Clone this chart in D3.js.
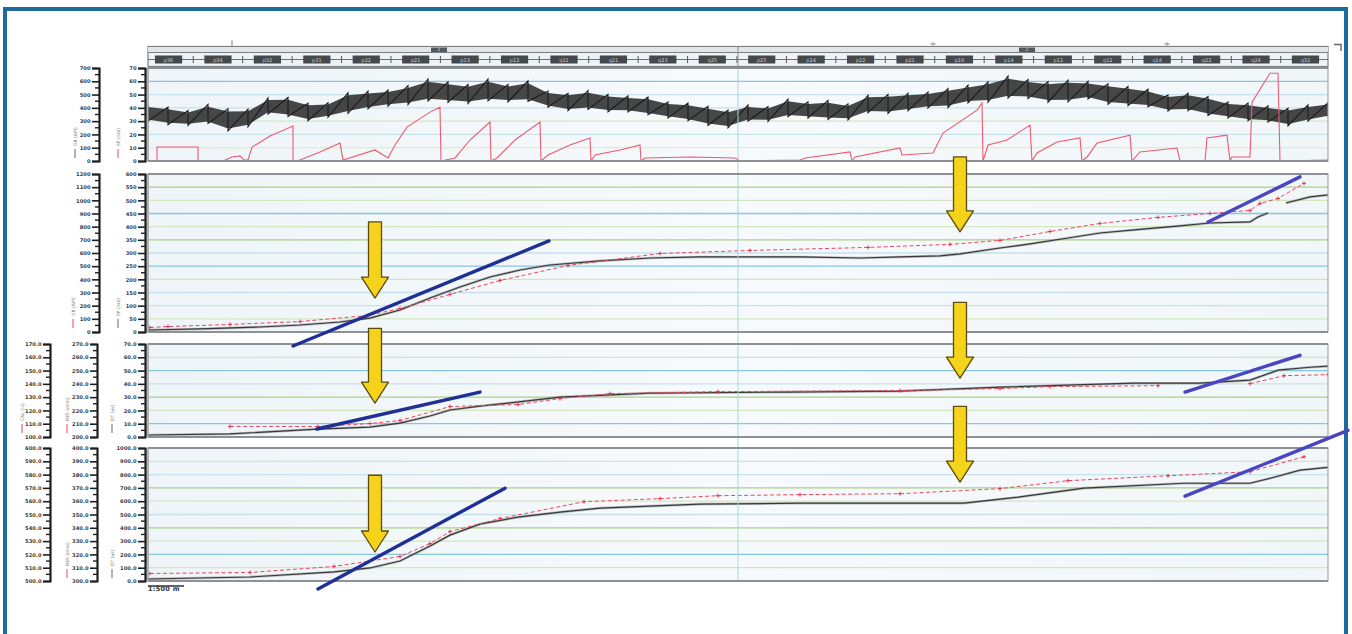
<!DOCTYPE html>
<html><head><meta charset="utf-8">
<script src="https://cdn.jsdelivr.net/npm/d3@7"></script>
<style>body{margin:0;background:#fff}svg{display:block}</style>
</head><body><svg id="c" width="1352" height="634"></svg>
<script>
// ================= DATA =================
const xDomain = [0, 590];
const segmentBreak = 295;
const segmentLabels = ["1", "2"];
const headerLabels = ["p36","p34","p32","p31","p22","p21","p13","p12","q11","q21","q23","q25",
                      "p25","p24","p22","p21","p16","p14","p12","q12","q14","q22","q24","q32"];
const topMarks = [42, 392.5, 509.5];

// Panel 1 : noisy black signal (mid value and half range) sampled along x
const p1BandPos = [0,10,20,30,40,50,60,70,80,90,100,110,120,130,140,150,160,170,180,190,
  200,210,220,230,240,250,260,270,280,290,300,310,320,330,340,350,360,370,380,390,
  400,410,420,430,440,450,460,470,480,490,500,510,520,530,540,550,560,570,580,590];
const p1BandMid = [360,338,323,353,308,323,413,405,368,383,435,458,473,495,533,518,503,533,510,525,
  465,443,458,435,428,413,383,368,338,315,360,353,398,383,383,368,428,428,443,458,
  473,503,518,555,540,518,525,533,503,488,473,435,443,413,383,368,353,330,360,383];
const p1BandAmp = [55,60,50,65,75,60,55,65,60,50,70,60,55,65,75,70,65,75,60,70,
  55,60,65,60,55,60,55,60,65,60,55,50,60,55,65,55,60,65,60,55,
  65,60,70,75,65,70,75,60,70,65,60,55,60,65,55,60,55,60,55,50];
// Panel 1 : red sawtooth
const p1RedPos = [0,4.5,4.5,25,25,37.5,42,46,48,50,52,61,72.5,72.5,76,86,96,97.5,113.5,120,123.5,129.5,141,146,146.5,
  153.5,161,171,171.5,174.5,183.5,196,196.5,200,211,221,221.5,223.5,236,246,246.5,248.5,271,293.5,296,326,328.5,351,352,
  353.5,376,377,392.5,397.5,414.5,417,417.5,420,429.5,441,442,444.5,454.5,466,467,469.5,474.5,491,492,496,514.5,516,
  528.5,529.5,539.5,541,542,551,552,561,565,566,590];
const p1RedVal = [0,0,105,105,0,0,30,38,8,8,105,188,263,0,8,68,135,8,83,23,120,255,368,405,0,
  23,158,293,0,23,158,293,0,45,120,173,0,45,83,120,0,23,30,23,0,8,23,68,0,
  30,98,45,60,210,383,435,0,120,158,270,0,60,143,173,0,30,135,195,0,68,98,0,
  0,173,195,0,30,30,443,660,660,0,8];

// Panel 2 (cumulative curves)
const p2BlackPos = [0,26,56,76,96,111,126,141,156,171,186,201,226,251,276,296,326,356,376,396,406,426,441,460,476,493,516,531,551,555,560,null,569,581,590];
const p2BlackVal = [15,23,38,53,76,106,167,258,342,418,471,509,540,562,570,570,570,562,570,578,593,638,669,714,752,775,806,828,836,874,904,null,980,1026,1041];
const p2RedPos = [1,10,41,76,110,126,151,176,210,256,301,360,401,426,451,476,505,531,551,556,565,578];
const p2RedVal = [23,30,46,68,114,167,274,380,494,585,608,631,654,684,752,813,859,889,912,965,1003,1117];

// Panel 3
const p3BlackPos = [0,41,85,111,126,141,151,166,180,206,251,318,376,426,493,526,551,565,581,590];
const p3BlackVal = [15,23,60,75,105,158,203,233,255,300,330,338,345,375,405,405,428,503,525,533];
const p3RedPos = [41,85,111,126,151,185,206,231,285,376,426,451,505,null,551,568,590];
const p3RedVal = [68,68,90,113,218,233,278,315,330,338,353,368,375,null,390,450,458];

// Panel 4
const p4BlackPos = [0,51,93,111,126,141,151,166,185,206,226,276,326,376,408,435,468,518,551,563,576,590];
const p4BlackVal = [15,30,68,98,150,263,345,428,480,518,548,578,585,585,585,630,698,735,735,780,833,855];
const p4RedPos = [1,51,93,126,141,151,176,218,256,285,326,376,426,460,510,551,578];
const p4RedVal = [45,53,98,173,270,360,458,585,608,630,638,645,683,743,780,810,923];

// Trend annotations [pos1, val1, pos2, val2] in each panel's units
const p2Trends = [[72.5,-106,200.5,692],[530,836,576,1178]];
const p3Trends = [[84.5,60,166,338],[518.5,338,576,615]];
const p4Trends = [[85,-60,178.5,698],[518.5,638,600,1133]];
// Arrows [pos, topValue, tipValue]
const p2Arrows = [[113.5,836,258],[406,1330,760]];
const p3Arrows = [[113.5,818,255],[406,1013,443]];
const p4Arrows = [[113.5,795,218],[406,1313,743]];

// Tick labels
const p1TicksA = ["0","100","200","300","400","500","600","700"];
const p1TicksB = ["0","10","20","30","40","50","60","70"];
const p2TicksA = ["0","100","200","300","400","500","600","700","800","900","1000","1100","1200"];
const p2TicksB = ["0","50","100","150","200","250","300","350","400","450","500","550","600"];
const p3TicksA = ["100.0","110.0","120.0","130.0","140.0","150.0","160.0","170.0"];
const p3TicksB = ["200.0","210.0","220.0","230.0","240.0","250.0","260.0","270.0"];
const p3TicksC = ["0.0","10.0","20.0","30.0","40.0","50.0","60.0","70.0"];
const p4TicksA = ["500.0","510.0","520.0","530.0","540.0","550.0","560.0","570.0","580.0","590.0","600.0"];
const p4TicksB = ["300.0","310.0","320.0","330.0","340.0","350.0","360.0","370.0","380.0","390.0","400.0"];
const p4TicksC = ["0.0","100.0","200.0","300.0","400.0","500.0","600.0","700.0","800.0","900.0","1000.0"];
const legendTexts = ["GR","SP","CAL","RES","DT"];
const scaleText = "1:500 m";

// ================= DRAWING =================
const svg = d3.select('#c');
const x = d3.scaleLinear().domain(xDomain).range([148, 1328]);

svg.append('rect').attr('x',5).attr('y',9).attr('width',1341).attr('height',660)
  .attr('fill','none').attr('stroke','#1d6a9c').attr('stroke-width',4);

const G = {blue:'#86c7de', lblue:'#c6e2ec', green:'#a9d287', lgreen:'#d3e7bf', lyel:'#e6ecc2'};
const panels = [
  {top:68, bottom:161, domain:[0,700], step:100, grid:[G.blue,G.lblue,G.lblue,G.lgreen,G.lblue,G.lyel]},
  {top:174, bottom:332, domain:[0,1200], step:100, grid:[G.green,G.lgreen,G.blue,G.lgreen,G.green,G.lblue,G.blue,G.lgreen,G.lblue,G.lblue,G.lgreen]},
  {top:344, bottom:437, domain:[0,700], step:100, grid:[G.lgreen,G.blue,G.lblue,G.green,G.lgreen,G.blue]},
  {top:448, bottom:581, domain:[0,1000], step:100, grid:[G.lgreen,G.lblue,G.green,G.lgreen,G.lblue,G.green,G.lgreen,G.blue,G.lgreen]}
];
panels.forEach(p => { p.y = d3.scaleLinear().domain(p.domain).range([p.bottom, p.top]); });

const defs = svg.append('defs');
const grad = defs.append('linearGradient').attr('id','bg').attr('x1',0).attr('x2',1).attr('y1',0).attr('y2',0);
grad.append('stop').attr('offset','0%').attr('stop-color','#eef4f8');
grad.append('stop').attr('offset','50%').attr('stop-color','#f7fafc');
grad.append('stop').attr('offset','100%').attr('stop-color','#f1f6f9');

panels.forEach((p,i) => {
  defs.append('clipPath').attr('id','clip'+i).append('rect')
    .attr('x',x.range()[0]).attr('y',p.top).attr('width',x.range()[1]-x.range()[0]).attr('height',p.bottom-p.top);
  const g = svg.append('g');
  g.append('rect').attr('x',x.range()[0]).attr('y',p.top).attr('width',x.range()[1]-x.range()[0])
    .attr('height',p.bottom-p.top).attr('fill','url(#bg)');
  const ticks = p.y.ticks((p.domain[1]-p.domain[0])/p.step).filter(t=>t>p.domain[0] && t<p.domain[1]).reverse();
  g.selectAll('line.grid').data(ticks).enter().append('line')
    .attr('x1',x.range()[0]).attr('x2',x.range()[1]).attr('y1',d=>p.y(d)).attr('y2',d=>p.y(d))
    .attr('stroke',(d,j)=>p.grid[j]).attr('stroke-width',1.3);
  g.append('rect').attr('x',x.range()[0]-3).attr('y',p.top).attr('width',4).attr('height',p.bottom-p.top).attr('fill','#c4c7c9');
  p.g = g;
});

svg.append('line').attr('x1',x(segmentBreak)).attr('x2',x(segmentBreak)).attr('y1',47).attr('y2',582)
  .attr('stroke','#a9d3e6').attr('stroke-width',1);

panels.forEach(p => {
  p.g2 = svg.append('g');
  p.g2.append('rect').attr('x',x.range()[0]).attr('y',p.top).attr('width',x.range()[1]-x.range()[0])
    .attr('height',p.bottom-p.top).attr('fill','none').attr('stroke','#a3a6a8').attr('stroke-width',1.2);
  p.g2.append('line').attr('x1',x.range()[0]).attr('x2',x.range()[1]).attr('y1',p.top).attr('y2',p.top).attr('stroke','#8e9193').attr('stroke-width',2);
  p.g2.append('line').attr('x1',x.range()[0]).attr('x2',x.range()[1]).attr('y1',p.bottom).attr('y2',p.bottom).attr('stroke','#8e9193').attr('stroke-width',2);
});

// ---- header ----
const hx0 = x.range()[0], hx1 = x.range()[1];
const hdr = svg.append('g');
hdr.append('rect').attr('x',hx0).attr('y',46.5).attr('width',hx1-hx0).attr('height',20).attr('fill','#eef2f4').attr('stroke','#7d8082').attr('stroke-width',1.2);
hdr.append('rect').attr('x',hx0).attr('y',47).attr('width',hx1-hx0).attr('height',5.5).attr('fill','#dfe5e8');
hdr.append('line').attr('x1',hx0).attr('x2',hx1).attr('y1',52.5).attr('y2',52.5).attr('stroke','#7d8082').attr('stroke-width',1);
hdr.append('line').attr('x1',hx0).attr('x2',hx1).attr('y1',59.5).attr('y2',59.5).attr('stroke','#6d7072').attr('stroke-width',1);
const band = d3.scaleBand().domain(headerLabels.map((d,i)=>i)).range([hx0+2, hx1-4]).paddingInner(0.45).paddingOuter(0.1);
headerLabels.forEach((lab,i) => {
  const bx = band(i);
  hdr.append('rect').attr('x',bx).attr('y',55.5).attr('width',band.bandwidth()).attr('height',8).attr('fill','#45494c');
  hdr.append('text').attr('x',bx+band.bandwidth()/2).attr('y',61.6).attr('text-anchor','middle')
    .attr('font-family','DejaVu Sans').attr('font-size',5).attr('fill','#c9cccf').text(lab);
  const sx = bx + band.bandwidth() + band.step()*band.paddingInner()/2;
  if (i < headerLabels.length-1)
    hdr.append('line').attr('x1',sx).attr('x2',sx).attr('y1',56).attr('y2',63).attr('stroke','#555').attr('stroke-width',1);
});
[segmentBreak/2, (segmentBreak + xDomain[1])/2].forEach((pos,i) => {
  const cx = x(pos) + (i===0? -4 : -6);
  hdr.append('rect').attr('x',cx-8).attr('y',47.5).attr('width',16).attr('height',4.5).attr('fill','#55595c');
  hdr.append('text').attr('x',cx).attr('y',51.4).attr('text-anchor','middle').attr('font-family','DejaVu Sans')
    .attr('font-size',4.5).attr('fill','#e0e0e0').text(segmentLabels[i]);
});
hdr.append('line').attr('x1',x(segmentBreak)).attr('x2',x(segmentBreak)).attr('y1',47).attr('y2',66).attr('stroke','#8a8d8f');
topMarks.forEach((m,i) => {
  if (i===0) svg.append('line').attr('x1',x(m)).attr('x2',x(m)).attr('y1',40).attr('y2',46).attr('stroke','#888');
  else {
    svg.append('line').attr('x1',x(m)-3).attr('x2',x(m)+3).attr('y1',44).attr('y2',44).attr('stroke','#999');
    svg.append('line').attr('x1',x(m)).attr('x2',x(m)).attr('y1',42).attr('y2',46).attr('stroke','#999');
  }
});
svg.append('path').attr('d','M1334,44.5 H1341 V51').attr('fill','none').attr('stroke','#666').attr('stroke-width',1.4);

// ---- Panel 1 content ----
const P1 = panels[0];
const g1 = P1.g.append('g').attr('clip-path','url(#clip0)');
const bandArea = d3.area().x((d,i)=>x(p1BandPos[i]))
  .y0((d,i)=>P1.y(p1BandMid[i]-p1BandAmp[i]*0.85)).y1((d,i)=>P1.y(p1BandMid[i]+p1BandAmp[i]*0.85)).curve(d3.curveLinear);
g1.append('path').datum(p1BandMid).attr('d',bandArea).attr('fill','#2e2e2e').attr('opacity',0.88);
const zig = [];
p1BandMid.forEach((m,i) => {
  zig.push([x(p1BandPos[i]), P1.y(m + p1BandAmp[i]*1.12)]);
  zig.push([x(p1BandPos[i]), P1.y(m - p1BandAmp[i]*1.08)]);
});
g1.append('path').attr('d',d3.line()(zig)).attr('fill','none').attr('stroke','#1a1a1a').attr('stroke-width',1.1);
const redLine1 = d3.line().x((d,i)=>x(p1RedPos[i])).y(d=>P1.y(d));
g1.append('path').datum(p1RedVal).attr('d',redLine1).attr('fill','none').attr('stroke','#ee5a70').attr('stroke-width',1.1);

// ---- curves in panels 2-4 ----
function drawCurves(pi, bPos, bVal, rPos, rVal) {
  const P = panels[pi];
  const g = P.g.append('g').attr('clip-path',`url(#clip${pi})`);
  const bl = d3.line().defined((d,i)=>d!==null && bPos[i]!==null).x((d,i)=>x(bPos[i])).y(d=>P.y(d));
  g.append('path').datum(bVal).attr('d',bl).attr('fill','none').attr('stroke','#9a9a9a').attr('stroke-width',2.6).attr('opacity',0.6);
  g.append('path').datum(bVal).attr('d',bl).attr('fill','none').attr('stroke','#383838').attr('stroke-width',1.2);
  const rl = d3.line().defined((d,i)=>d!==null && rPos[i]!==null).x((d,i)=>x(rPos[i])).y(d=>P.y(d)-1.5);
  g.append('path').datum(rVal).attr('d',rl).attr('fill','none').attr('stroke','#ec4660').attr('stroke-width',1).attr('stroke-dasharray','4,2.5');
  rVal.forEach((v,i) => {
    if (v===null) return;
    const cx = x(rPos[i]), cy = P.y(v)-1.5;
    g.append('path').attr('d',`M${cx-2},${cy}H${cx+2}M${cx},${cy-2}V${cy+2}`).attr('stroke','#e23a55').attr('stroke-width',1);
  });
}
drawCurves(1, p2BlackPos, p2BlackVal, p2RedPos, p2RedVal);
drawCurves(2, p3BlackPos, p3BlackVal, p3RedPos, p3RedVal);
drawCurves(3, p4BlackPos, p4BlackVal, p4RedPos, p4RedVal);

// ---- axes ----
function drawAxis(pi, xPos, labels) {
  const P = panels[pi];
  const tv = P.y.ticks((P.domain[1]-P.domain[0])/P.step);
  const ax = d3.axisLeft(P.y).tickValues(tv).tickFormat((d,i)=>labels[i]).tickSize(7).tickPadding(1.5);
  const g = svg.append('g').attr('transform',`translate(${xPos},0)`).call(ax);
  g.select('.domain').attr('stroke','#1e1e1e').attr('stroke-width',2.2);
  g.selectAll('.tick line').attr('stroke','#1e1e1e').attr('stroke-width',1.6);
  g.selectAll('.tick text').attr('font-family','DejaVu Sans').attr('font-size',5.2).attr('font-weight','bold').attr('fill','#3a3a3a');
  const mids = tv.slice(1).map((t,i)=>(t+tv[i])/2);
  g.selectAll('line.minor').data(mids).enter().append('line').attr('class','minor')
    .attr('x1',-4).attr('x2',0).attr('y1',d=>P.y(d)).attr('y2',d=>P.y(d)).attr('stroke','#1e1e1e').attr('stroke-width',1.4);
}
drawAxis(0, 99, p1TicksA); drawAxis(0, 145, p1TicksB);
drawAxis(1, 99, p2TicksA); drawAxis(1, 145, p2TicksB);
drawAxis(2, 50, p3TicksA); drawAxis(2, 97, p3TicksB); drawAxis(2, 145, p3TicksC);
drawAxis(3, 50, p4TicksA); drawAxis(3, 97, p4TicksB); drawAxis(3, 145, p4TicksC);

// ---- rotated legends ----
function legend(lx, ly, txt, color) {
  const g = svg.append('g').attr('transform',`translate(${lx},${ly}) rotate(-90)`);
  g.append('line').attr('x1',0).attr('x2',9).attr('y1',0).attr('y2',0).attr('stroke',color).attr('stroke-width',1);
  g.append('text').attr('x',12).attr('y',1.7).attr('font-family','DejaVu Sans').attr('font-size',4.5).attr('fill','#777').text(txt);
}
legend(75, 158, legendTexts[0]+' (API)', '#666');
legend(118, 158, legendTexts[1]+' (mV)', '#e8455a');
legend(73, 328, legendTexts[0]+' (API)', '#e8455a');
legend(118, 328, legendTexts[1]+' (mV)', '#666');
legend(22, 433, legendTexts[2]+' (in)', '#e8455a');
legend(67, 433, legendTexts[3]+' (ohm)', '#e8455a');
legend(112, 433, legendTexts[4]+' (us)', '#666');
legend(67, 578, legendTexts[3]+' (ohm)', '#e8455a');
legend(112, 578, legendTexts[4]+' (us)', '#666');

// ---- trend lines ----
function drawTrends(pi, trends) {
  const P = panels[pi];
  trends.forEach((t,i) => {
    svg.append('line').attr('x1',x(t[0])).attr('y1',P.y(t[1])).attr('x2',x(t[2])).attr('y2',P.y(t[3]))
      .attr('stroke', i===0 ? '#1f2f96' : '#4a46c2').attr('stroke-width',3.4).attr('stroke-linecap','round');
  });
}
drawTrends(1, p2Trends); drawTrends(2, p3Trends); drawTrends(3, p4Trends);

// ---- arrows ----
function drawArrows(pi, arrows) {
  const P = panels[pi];
  arrows.forEach(a => {
    const cx = x(a[0]), yt = P.y(a[1]), yp = P.y(a[2]);
    const sw = 6.5, hw = 13.5, hl = 21;
    const d = `M${cx-sw},${yt} H${cx+sw} V${yp-hl} H${cx+hw} L${cx},${yp} L${cx-hw},${yp-hl} H${cx-sw} Z`;
    svg.append('path').attr('d',d).attr('fill','#f5d31a').attr('stroke','#5b4b10').attr('stroke-width',1.3).attr('stroke-linejoin','round');
  });
}
drawArrows(1, p2Arrows); drawArrows(2, p3Arrows); drawArrows(3, p4Arrows);

svg.append('text').attr('x',x(0)).attr('y',591).attr('font-family','DejaVu Sans').attr('font-size',6.5)
  .attr('font-weight','bold').attr('fill','#333').attr('letter-spacing',0.3).text(scaleText);
svg.append('line').attr('x1',x(0)).attr('x2',x(0)+36).attr('y1',586).attr('y2',586).attr('stroke','#333').attr('stroke-width',1.5);
</script></body></html>
